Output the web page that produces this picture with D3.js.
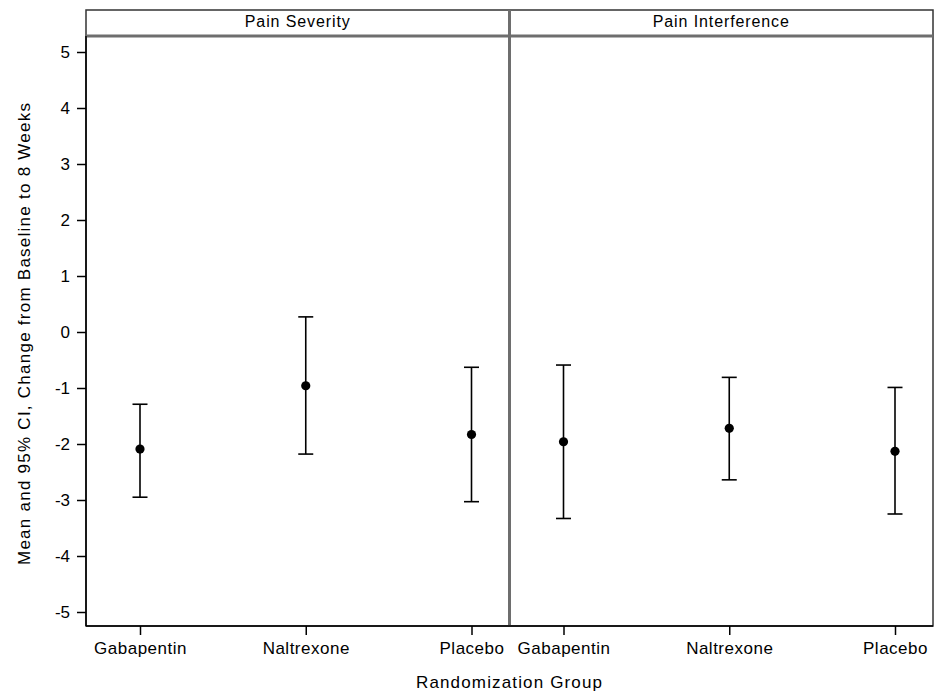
<!DOCTYPE html>
<meta charset="utf-8">
<style>
body { margin: 0; background: #fff; }
text { font-family: "Liberation Sans", Arial, sans-serif; fill: #000; }
</style>
<svg id="chart" width="935" height="693"></svg>
<script src="https://d3js.org/d3.v7.min.js"></script>
<script>

var panels = ["Pain Severity", "Pain Interference"];
var groups = ["Gabapentin", "Naltrexone", "Placebo"];
// mean and 95% CI per panel, in group order
var severityMean  = [-2.09, -0.96, -1.83];
var severityLower = [-2.95, -2.18, -3.03];
var severityUpper = [-1.29,  0.27, -0.63];
var interfMean  = [-1.96, -1.72, -2.13];
var interfLower = [-3.33, -2.64, -3.25];
var interfUpper = [-0.59, -0.81, -0.99];
var yTicks = [5, 4, 3, 2, 1, 0, -1, -2, -3, -4, -5];

var series = [
  {mean: severityMean, lower: severityLower, upper: severityUpper},
  {mean: interfMean, lower: interfLower, upper: interfUpper}
];

var font = "'Liberation Sans', Arial, sans-serif";
var svg = d3.select("#chart");

var plotLeft = 86, plotRight = 933, mid = 509.5,
    plotTop = 10, stripBottom = 36, plotBottom = 626;

var y = d3.scaleLinear().domain([-5, 5]).range([612, 52]);

var panelX = [[plotLeft, mid], [mid, plotRight]];

// outer frame
svg.append("rect")
    .attr("x", plotLeft).attr("y", plotTop)
    .attr("width", plotRight - plotLeft).attr("height", plotBottom - plotTop)
    .attr("fill", "none").attr("stroke", "#333").attr("stroke-width", 1.5);

// header strip bottom + panel divider
svg.append("line")
    .attr("x1", plotLeft).attr("x2", plotRight)
    .attr("y1", stripBottom).attr("y2", stripBottom)
    .attr("stroke", "#6e6e6e").attr("stroke-width", 3);

svg.append("line")
    .attr("x1", mid).attr("x2", mid)
    .attr("y1", plotTop).attr("y2", plotBottom)
    .attr("stroke", "#6e6e6e").attr("stroke-width", 3);

panels.forEach(function(name, i) {
  var px = panelX[i];
  svg.append("text")
      .attr("x", (px[0] + px[1]) / 2)
      .attr("y", 27)
      .attr("text-anchor", "middle")
      .style("font-size", "16px")
      .style("letter-spacing", "0.9px")
      .text(name);

  var x = d3.scalePoint().domain(groups).range([px[0] + 54, px[1] - 38]);

  var xAxis = svg.append("g")
      .attr("transform", "translate(0," + plotBottom + ")")
      .call(d3.axisBottom(x).tickSize(9).tickSizeOuter(0).tickPadding(7));
  xAxis.select(".domain").remove();
  xAxis.selectAll(".tick line").attr("stroke", "#000").attr("stroke-width", 1.5);
  xAxis.selectAll(".tick text")
      .style("font-size", "17px")
      .style("letter-spacing", "0.5px")
      .style("font-family", font);

  var s = series[i];
  var g = svg.append("g");
  groups.forEach(function(grp, j) {
    var cx = x(grp);
    g.append("line")
        .attr("x1", cx).attr("x2", cx)
        .attr("y1", y(s.upper[j])).attr("y2", y(s.lower[j]))
        .attr("stroke", "#000").attr("stroke-width", 1.6);
    [s.upper[j], s.lower[j]].forEach(function(v) {
      g.append("line")
          .attr("x1", cx - 7.5).attr("x2", cx + 7.5)
          .attr("y1", y(v)).attr("y2", y(v))
          .attr("stroke", "#000").attr("stroke-width", 1.6);
    });
    g.append("circle")
        .attr("cx", cx).attr("cy", y(s.mean[j]))
        .attr("r", 4.6).attr("fill", "#000");
  });
});

// y axis
var yAxis = svg.append("g")
    .attr("transform", "translate(" + plotLeft + ",0)")
    .call(d3.axisLeft(y).tickValues(yTicks).tickFormat(function(d) { return String(d); })
      .tickSize(9).tickSizeOuter(0).tickPadding(7));
yAxis.select(".domain").remove();
yAxis.selectAll(".tick line").attr("stroke", "#000").attr("stroke-width", 1.5);
yAxis.selectAll(".tick text")
    .style("font-size", "17px")
    .style("font-family", font);

// black y axis line and bottom line
svg.append("line")
    .attr("x1", plotLeft).attr("x2", plotLeft).attr("y1", stripBottom).attr("y2", plotBottom)
    .attr("stroke", "#000").attr("stroke-width", 1.5);
svg.append("line")
    .attr("x1", plotLeft).attr("x2", plotRight).attr("y1", plotBottom).attr("y2", plotBottom)
    .attr("stroke", "#000").attr("stroke-width", 1.5);

svg.append("text")
    .attr("x", 509)
    .attr("y", 688)
    .attr("text-anchor", "middle")
    .style("font-size", "17px")
    .attr("textLength", 186)
    .attr("lengthAdjust", "spacing")
    .text("Randomization Group");

svg.append("text")
    .attr("transform", "translate(30,334) rotate(-90)")
    .attr("text-anchor", "middle")
    .style("font-size", "17px")
    .attr("textLength", 462)
    .attr("lengthAdjust", "spacing")
    .text("Mean and 95% CI, Change from Baseline to 8 Weeks");

</script>
